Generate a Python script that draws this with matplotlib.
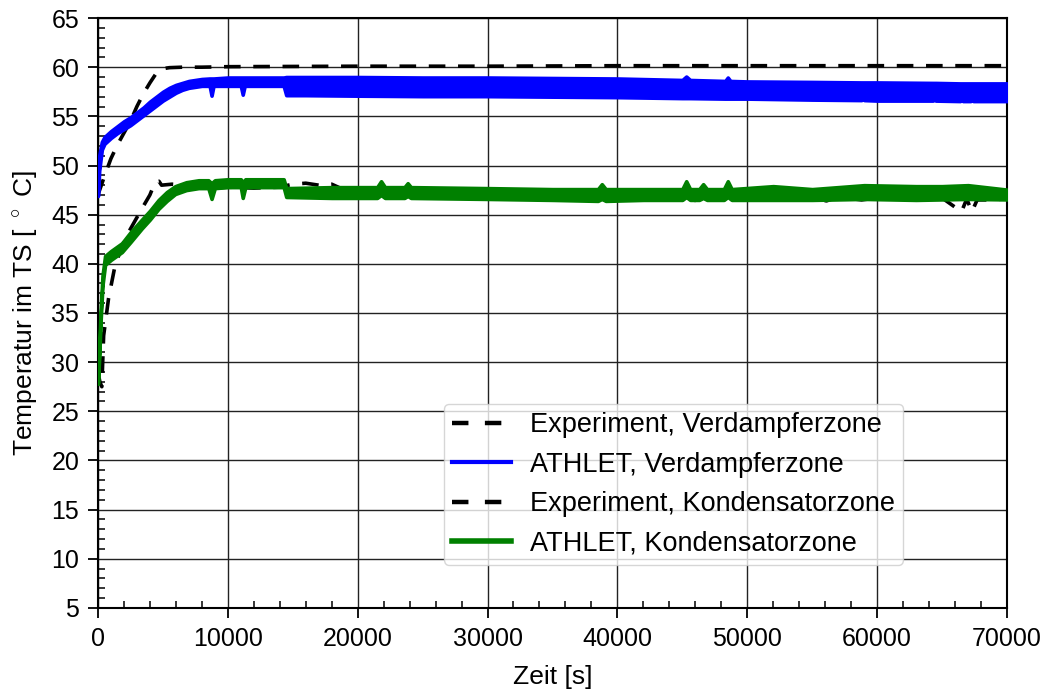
import matplotlib
matplotlib.use("Agg")
import matplotlib.pyplot as plt
from matplotlib.lines import Line2D
from matplotlib.ticker import MultipleLocator

plt.rcParams['font.family'] = ['Liberation Sans', 'DejaVu Sans']
plt.rcParams['mathtext.fontset'] = 'custom'
plt.rcParams['mathtext.rm'] = 'Liberation Sans'

# ---------------- data ----------------
# Experiment, Verdampferzone
exp_v_t = [0, 500, 1000, 1500, 2000, 2500, 3000, 3500, 4000, 4500, 5000, 5500,
           6500, 8000, 10000, 20000, 30000, 40000, 50000, 60000, 70000]
exp_v_T = [47.0, 48.9, 50.7, 52.1, 53.3, 54.5, 56.0, 57.3, 58.4, 59.4, 59.85, 59.95,
           60.0, 60.0, 60.05, 60.1, 60.1, 60.15, 60.15, 60.15, 60.15]

# ATHLET, Verdampferzone (noisy band: lower / upper envelope)
ath_v_t = [0, 100, 300, 500, 1000, 1500, 2000, 2500, 3000, 3500, 4000, 4500, 5000,
           5500, 6000, 6500, 7000, 7500, 8000, 8600, 8750, 8900, 10000, 11000, 11150,
           11300, 12000, 13000, 14300, 14500, 16000, 20000, 25000, 30000, 35000,
           40000, 45000, 45300, 45600, 48300, 48500, 48700, 50000, 55000, 58800,
           58900, 59000, 60000, 64300, 64400, 64500, 66400, 66500, 66600, 67200,
           67300, 67400, 70000]
ath_v_lo = [46.9, 49.5, 51.6, 52.2, 52.8, 53.3, 53.7, 54.1, 54.6, 55.1, 55.6, 56.1, 56.6,
            57.0, 57.4, 57.7, 57.9, 58.0, 58.1, 58.1, 57.1, 58.1, 58.1, 58.1, 57.2,
            58.1, 58.1, 58.1, 58.1, 57.15, 57.15, 57.1, 57.05, 57.05, 57.0,
            56.95, 56.85, 56.85, 56.85, 56.8, 56.8, 56.8, 56.8, 56.7, 56.65,
            57.4, 56.65, 56.6, 56.6, 57.3, 56.6, 56.55, 57.4, 56.55, 56.55,
            57.4, 56.55, 56.55]
ath_v_hi = [47.2, 51.0, 52.4, 52.9, 53.5, 54.0, 54.5, 54.9, 55.4, 55.9, 56.5, 57.0, 57.5,
            57.9, 58.2, 58.4, 58.6, 58.7, 58.8, 58.85, 58.85, 58.85, 58.95, 58.95, 58.95,
            58.95, 58.95, 58.95, 58.95, 59.0, 59.0, 59.0, 58.95, 58.95, 58.9,
            58.85, 58.7, 59.05, 58.7, 58.6, 58.95, 58.6, 58.55, 58.5, 58.45,
            58.45, 58.45, 58.45, 58.4, 58.4, 58.4, 58.35, 58.35, 58.35, 58.35,
            58.35, 58.35, 58.35]

# Experiment, Kondensatorzone
exp_k_t = [0, 150, 300, 440, 820, 1330, 2100, 3380, 4000, 4400, 4700, 4900, 5700, 7000,
           8000, 9000, 10000, 12000, 14000, 15000, 16000, 17000, 18000, 19000, 20000,
           25000, 30000, 35000, 39400, 40000, 42000, 45000, 46100, 47000, 50000,
           55000, 56100, 57000, 58800, 60000, 63000, 65000, 66500, 66900, 67300,
           67700, 68500, 70000]
exp_k_T = [29.0, 28.0, 27.5, 32.7, 36.5, 39.9, 42.6, 45.6, 47.0, 48.3, 48.4, 48.0, 48.1, 48.0,
           47.9, 47.7, 47.8, 47.7, 47.8, 48.1, 48.2, 48.0, 48.1, 47.5, 47.4,
           47.3, 47.1, 47.0, 46.5, 46.8, 46.7, 46.9, 46.4, 46.8, 46.8,
           46.7, 46.4, 46.8, 46.5, 46.7, 46.7, 46.7, 45.3, 46.6, 45.3,
           46.5, 46.5, 46.6]

# ATHLET, Kondensatorzone (noisy band: lower / upper envelope)
ath_k_t = [0, 100, 200, 350, 550, 1000, 1850, 2500, 3380, 4000, 4670, 5300, 5950, 6800,
           7750, 8500, 8750, 9000, 10000, 11000, 11150, 11350, 12000, 14300, 14500,
           18000, 21500, 21800, 22100, 23600, 23850, 24100, 30000, 35000, 38500,
           38800, 39100, 42000, 45000, 45300, 45600, 46300, 46600, 46900, 48200,
           48500, 48800, 52000, 55000, 59000, 63000, 65000, 67000, 70000]
ath_k_lo = [27.8, 30.5, 34.0, 37.8, 39.9, 40.4, 41.2, 42.2, 43.6, 44.5, 45.6, 46.4, 47.1, 47.5,
            47.7, 47.7, 46.6, 47.7, 47.8, 47.8, 46.7, 47.8, 47.8, 47.8, 46.8,
            46.7, 46.7, 47.0, 46.7, 46.7, 46.9, 46.7, 46.6, 46.5, 46.4,
            46.6, 46.4, 46.5, 46.5, 46.8, 46.5, 46.5, 46.7, 46.5, 46.5,
            46.8, 46.5, 46.5, 46.5, 46.6, 46.5, 46.55, 46.6, 46.55]
ath_k_hi = [28.3, 31.5, 35.0, 38.8, 40.8, 41.3, 42.1, 43.2, 44.5, 45.4, 46.5, 47.3, 47.9, 48.3,
            48.5, 48.5, 48.2, 48.5, 48.6, 48.6, 48.3, 48.6, 48.6, 48.6, 47.7,
            47.8, 47.8, 48.4, 47.8, 47.8, 48.2, 47.8, 47.7, 47.6, 47.6,
            48.1, 47.6, 47.6, 47.6, 48.4, 47.6, 47.6, 48.1, 47.6, 47.6,
            48.4, 47.6, 47.9, 47.6, 48.0, 47.9, 47.9, 48.0, 47.55]

labels = ['Experiment, Verdampferzone', 'ATHLET, Verdampferzone',
          'Experiment, Kondensatorzone', 'ATHLET, Kondensatorzone']

# ---------------- figure ----------------
fig = plt.figure(figsize=(10.53, 6.93), dpi=100)
ax = fig.add_axes([0.093, 0.1227, 0.8633, 0.8513])

dash = (4.6, 3.5)
ax.plot(exp_v_t, exp_v_T, color='black', lw=2.6, dashes=dash, zorder=3)
ax.fill_between(ath_v_t, ath_v_lo, ath_v_hi, color='#0000ff', edgecolor='#0000ff',
                lw=2.6, zorder=4)
ax.plot(exp_k_t, exp_k_T, color='black', lw=2.6, dashes=dash, zorder=3)
ax.fill_between(ath_k_t, ath_k_lo, ath_k_hi, color='#008000', edgecolor='#008000',
                lw=2.6, zorder=5)

ax.set_xlim(0, 70000)
ax.set_ylim(5, 65)
ax.xaxis.set_major_locator(MultipleLocator(10000))
ax.xaxis.set_minor_locator(MultipleLocator(2000))
ax.yaxis.set_major_locator(MultipleLocator(5))
ax.yaxis.set_minor_locator(MultipleLocator(1))
ax.tick_params(which='major', direction='out', length=7.5, width=1.3,
               labelsize=18, pad=6)
ax.tick_params(which='minor', direction='in', length=5, width=1.1)
ax.grid(True, which='major', color='#222222', lw=1.0)
for sp in ax.spines.values():
    sp.set_linewidth(1.5)

ax.set_xlabel('Zeit [s]', fontsize=19, labelpad=10)
ax.set_ylabel(r'Temperatur im TS [ $^\circ$ C]', fontsize=19, labelpad=8)

handles = [Line2D([], [], color='black', lw=3.2, dashes=(3.7, 3.7)),
           Line2D([], [], color='#0000ff', lw=3.0),
           Line2D([], [], color='black', lw=3.2, dashes=(3.7, 3.7)),
           Line2D([], [], color='#008000', lw=4.0)]
ax.legend(handles, labels, loc='lower right', bbox_to_anchor=(0.886, 0.073),
          borderaxespad=0, fontsize=19.5, handlelength=2.2, labelspacing=0.5,
          borderpad=0.3, handletextpad=0.7, framealpha=0.8, edgecolor='0.8')

fig.savefig('out.png', dpi=100)
